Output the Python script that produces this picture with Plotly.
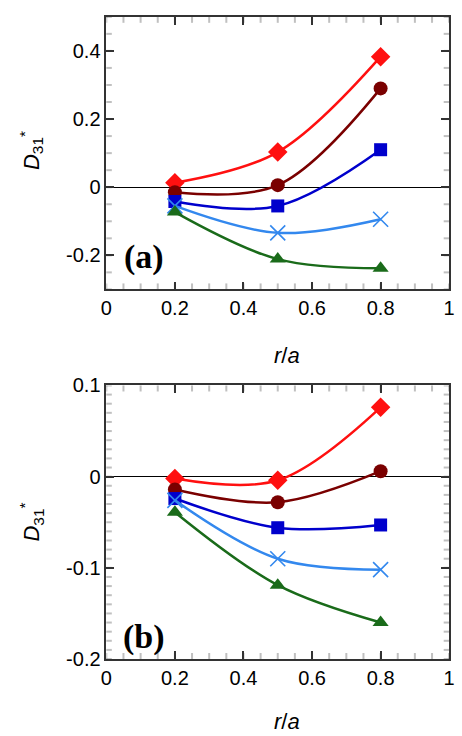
import numpy as np
import plotly.graph_objects as go

# ---- data ----
r_over_a = [0.2, 0.5, 0.8]

a_red = [0.013, 0.103, 0.383]
a_maroon = [-0.015, 0.006, 0.29]
a_blue = [-0.042, -0.055, 0.11]
a_lblue = [-0.055, -0.134, -0.094]
a_green = [-0.073, -0.211, -0.238]

b_red = [-0.002, -0.004, 0.076]
b_maroon = [-0.014, -0.028, 0.006]
b_blue = [-0.024, -0.056, -0.053]
b_lblue = [-0.026, -0.090, -0.102]
b_green = [-0.039, -0.119, -0.160]

ya_ticks = [-0.2, 0, 0.2, 0.4]
ya_text = ["-0.2", "0", "0.2", "0.4"]
yb_ticks = [-0.2, -0.1, 0, 0.1]
yb_text = ["-0.2", "-0.1", "0", "0.1"]
x_ticks = [0, 0.2, 0.4, 0.6, 0.8, 1]
x_text = ["0", "0.2", "0.4", "0.6", "0.8", "1"]

# ---- styles ----
series_style = [
    ("#ff1010", "diamond", 15, 0),
    ("#7a0000", "circle", 14, 0),
    ("#0000cc", "square", 13, 0),
    ("#3388ee", "x-thin-open", 15, 1.6),
    ("#1a6b1a", "triangle-up", 14, 0),
]

W, H = 462, 736
fig = go.Figure()

panels = [
    (["x", "y"], [a_red, a_maroon, a_blue, a_lblue, a_green]),
    (["x2", "y2"], [b_red, b_maroon, b_blue, b_lblue, b_green]),
]
for (xa, ya), series in panels:
    for vals, (col, sym, sz, lw) in zip(series, series_style):
        mk = dict(color=col, symbol=sym, size=sz)
        if lw:
            mk["line"] = dict(color=col, width=lw)
        fig.add_trace(go.Scatter(
            x=r_over_a, y=vals, xaxis=xa, yaxis=ya, mode="lines+markers",
            line=dict(color=col, width=2.5, shape="spline", smoothing=1.0),
            marker=mk, showlegend=False, cliponaxis=False))

tickfont = dict(family="Liberation Sans, Arial", size=20, color="black")
axcol = "#333333"
xdom = [103 / W, 455 / W]

def xaxis(anchor):
    return dict(domain=xdom, range=[0, 1], anchor=anchor, tickmode="array",
                tickvals=x_ticks, ticktext=x_text, ticks="inside", ticklen=8,
                tickwidth=2, tickcolor=axcol, showline=True,
                linecolor=axcol, linewidth=1.5, mirror="allticks", showgrid=False,
                zeroline=False, tickfont=tickfont)

def yaxis(anchor, dom, rng, tv, tt):
    return dict(domain=dom, range=rng, anchor=anchor, tickmode="array",
                tickvals=tv, ticktext=tt, ticks="inside", ticklen=8,
                tickwidth=2, tickcolor=axcol, showline=True,
                linecolor=axcol, linewidth=1.5, mirror="allticks", showgrid=False,
                zeroline=True, zerolinecolor="black", zerolinewidth=1.2,
                tickfont=tickfont)

fig.update_layout(
    template="simple_white",
    width=W, height=H, margin=dict(l=0, r=0, t=0, b=0),
    paper_bgcolor="white", plot_bgcolor="white",
    xaxis=xaxis("y"),
    yaxis=yaxis("x", [1 - 287 / H, 1 - 6 / H], [-0.3, 0.5], ya_ticks, ya_text),
    xaxis2=xaxis("y2"),
    yaxis2=yaxis("x2", [1 - 668 / H, 1 - 386 / H], [-0.2, 0.1], yb_ticks, yb_text),
)

# minor inside tick marks on all four sides, placed through the axes' own scales
shapes = []
tline = dict(color=axcol, width=2)

def add_xticks(xref, yref, step):
    for v in np.round(np.arange(0, 1 + 1e-9, step), 4):
        for y0, y1 in [(0, 0.022), (1, 1 - 0.022)]:
            shapes.append(dict(type="line", xref=xref, yref=yref + " domain",
                               x0=v, x1=v, y0=y0, y1=y1, line=tline, layer="above"))

def add_yticks(xref, yref, lo, hi, step):
    for v in np.round(np.arange(lo, hi + 1e-9, step), 4):
        for x0, x1 in [(0, 0.016), (1, 1 - 0.016)]:
            shapes.append(dict(type="line", yref=yref, xref=xref + " domain",
                               y0=v, y1=v, x0=x0, x1=x1, line=tline, layer="above"))

add_xticks("x", "y", 0.05)
add_yticks("x", "y", -0.3, 0.5, 0.05)
add_xticks("x2", "y2", 0.05)
add_yticks("x2", "y2", -0.2, 0.1, 0.01)

ann = []
title_font = dict(family="Liberation Sans, Arial", size=22, color="black")
lab_font = dict(family="Liberation Serif, Times New Roman", size=34, color="black")
for ycen_x, ycen_y, lab, lab_y in [(355, 144, "<b>(a)</b>", 254), (732, 527, "<b>(b)</b>", 645)]:
    ann.append(dict(text="<i>r</i>/<i>a</i>", x=289 / W, y=1 - ycen_x / H, xref="paper",
                    yref="paper", showarrow=False, font=title_font,
                    xanchor="center", yanchor="middle"))
    ann.append(dict(text="<i>D</i><sub>31</sub><sup>*</sup>", x=26 / W, y=1 - ycen_y / H,
                    xref="paper", yref="paper", showarrow=False, font=title_font,
                    textangle=-90, xanchor="center", yanchor="middle"))
    ann.append(dict(text=lab, x=142 / W, y=1 - lab_y / H, xref="paper", yref="paper",
                    showarrow=False, font=lab_font, xanchor="center", yanchor="middle"))
fig.update_layout(annotations=ann, shapes=shapes)

fig.write_html("out.html")
